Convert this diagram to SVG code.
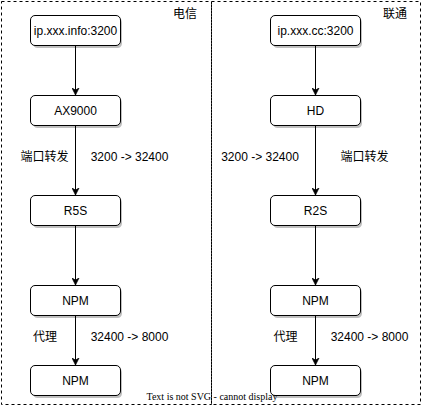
<svg xmlns="http://www.w3.org/2000/svg" width="422" height="406" viewBox="0 0 422 406">
<style>
.frame{fill:none;stroke:#000;stroke-width:1;stroke-dasharray:3,3}
.box{fill:#fff;stroke:#000;stroke-width:1}
.shadow{fill:#000;opacity:0.25}
.t{font-family:"Liberation Sans","Noto Sans CJK SC",Arial,sans-serif;font-size:12px;fill:#000}
.c{text-anchor:middle;dominant-baseline:central}
.edge{stroke:#000;stroke-width:1;fill:none}
</style>
<defs>
<marker id="arr" viewBox="0 0 10 10" refX="10" refY="5" markerWidth="7" markerHeight="8" markerUnits="userSpaceOnUse" orient="auto">
<path d="M0,0 L10,5 L0,10 L3,5 Z" fill="#000" stroke="#000" stroke-width="1"/>
</marker>
</defs>
<rect width="422" height="406" fill="#fff"/>
<g id="container-left">
<rect class="frame" x="1.5" y="1.5" width="210" height="403"/>
<text class="t c" x="185" y="14">电信</text>
</g>
<g id="container-right">
<rect class="frame" x="211.5" y="1.5" width="209" height="403"/>
<text class="t c" x="395" y="14">联通</text>
</g>
<g id="connectors">
<path class="edge" d="M75.5,45 V95" marker-end="url(#arr)"/>
<path class="edge" d="M75.5,125 V195" marker-end="url(#arr)"/>
<path class="edge" d="M75.5,225 V285" marker-end="url(#arr)"/>
<path class="edge" d="M75.5,315 V365" marker-end="url(#arr)"/>
<path class="edge" d="M315.5,45 V95" marker-end="url(#arr)"/>
<path class="edge" d="M315.5,125 V195" marker-end="url(#arr)"/>
<path class="edge" d="M315.5,225 V285" marker-end="url(#arr)"/>
<path class="edge" d="M315.5,315 V365" marker-end="url(#arr)"/>
<text class="t c" x="44.5" y="157">端口转发</text>
<text class="t c" x="129.5" y="157">3200 -&gt; 32400</text>
<text class="t c" x="260" y="157">3200 -&gt; 32400</text>
<text class="t c" x="364.5" y="157">端口转发</text>
<text class="t c" x="45" y="337">代理</text>
<text class="t c" x="129.5" y="337">32400 -&gt; 8000</text>
<text class="t c" x="285.5" y="337">代理</text>
<text class="t c" x="369.5" y="337">32400 -&gt; 8000</text>
</g>
<g id="n-ip-info">
<rect class="shadow" x="33" y="18" width="89" height="30" rx="4.5"/>
<rect class="box" x="30.5" y="15.5" width="90" height="30" rx="4.5"/>
<text class="t c" x="75.5" y="30.5">ip.xxx.info:3200</text>
</g>
<g id="n-ax9000">
<rect class="shadow" x="33" y="98" width="89" height="30" rx="4.5"/>
<rect class="box" x="30.5" y="95.5" width="90" height="30" rx="4.5"/>
<text class="t c" x="75.5" y="110.5">AX9000</text>
</g>
<g id="n-r5s">
<rect class="shadow" x="33" y="198" width="89" height="30" rx="4.5"/>
<rect class="box" x="30.5" y="195.5" width="90" height="30" rx="4.5"/>
<text class="t c" x="75.5" y="210.5">R5S</text>
</g>
<g id="n-npm-l1">
<rect class="shadow" x="33" y="288" width="89" height="30" rx="4.5"/>
<rect class="box" x="30.5" y="285.5" width="90" height="30" rx="4.5"/>
<text class="t c" x="75.5" y="300.5">NPM</text>
</g>
<g id="n-npm-l2">
<rect class="shadow" x="33" y="368" width="89" height="30" rx="4.5"/>
<rect class="box" x="30.5" y="365.5" width="90" height="30" rx="4.5"/>
<text class="t c" x="75.5" y="380.5">NPM</text>
</g>
<g id="n-ip-cc">
<rect class="shadow" x="273" y="18" width="89" height="30" rx="4.5"/>
<rect class="box" x="270.5" y="15.5" width="90" height="30" rx="4.5"/>
<text class="t c" x="315.5" y="30.5">ip.xxx.cc:3200</text>
</g>
<g id="n-hd">
<rect class="shadow" x="273" y="98" width="89" height="30" rx="4.5"/>
<rect class="box" x="270.5" y="95.5" width="90" height="30" rx="4.5"/>
<text class="t c" x="315.5" y="110.5">HD</text>
</g>
<g id="n-r2s">
<rect class="shadow" x="273" y="198" width="89" height="30" rx="4.5"/>
<rect class="box" x="270.5" y="195.5" width="90" height="30" rx="4.5"/>
<text class="t c" x="315.5" y="210.5">R2S</text>
</g>
<g id="n-npm-r1">
<rect class="shadow" x="273" y="288" width="89" height="30" rx="4.5"/>
<rect class="box" x="270.5" y="285.5" width="90" height="30" rx="4.5"/>
<text class="t c" x="315.5" y="300.5">NPM</text>
</g>
<g id="n-npm-r2">
<rect class="shadow" x="273" y="368" width="89" height="30" rx="4.5"/>
<rect class="box" x="270.5" y="365.5" width="90" height="30" rx="4.5"/>
<text class="t c" x="315.5" y="380.5">NPM</text>
</g>
<text x="212" y="400" font-family="'Liberation Serif','Times New Roman',serif" font-size="10px" text-anchor="middle" fill="#000">Text is not SVG - cannot display</text>
</svg>
